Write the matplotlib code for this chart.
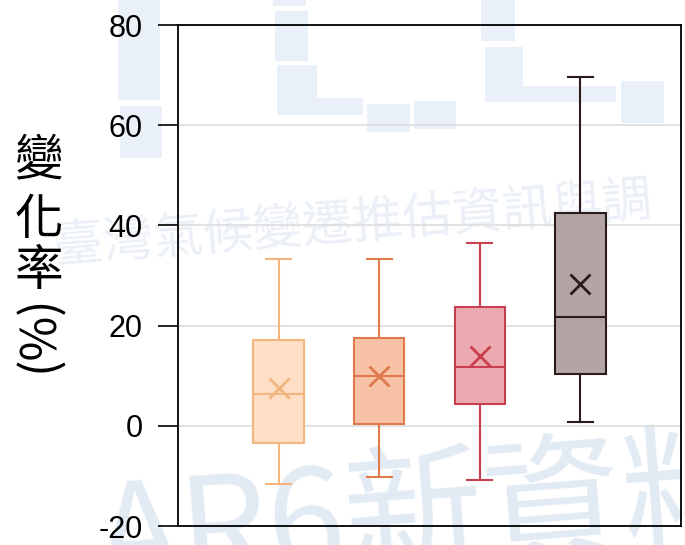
import matplotlib
matplotlib.use("Agg")
import matplotlib.pyplot as plt
from matplotlib.patches import Rectangle

plt.rcParams['axes.unicode_minus'] = False
plt.rcParams['font.family'] = ['Liberation Sans', 'DejaVu Sans']

# Precipitation change (%) summary per warming level
groups = ["GWL1.5", "GWL2.0", "GWL3.0", "GWL4.0"]
whisker_low = [-11.6, -10.2, -10.8, 0.8]
q1 = [-3.4, 0.4, 4.4, 10.4]
median = [6.4, 10.0, 11.8, 21.8]
q3 = [17.2, 17.6, 23.8, 42.4]
whisker_high = [33.2, 33.2, 36.4, 69.6]
mean = [7.6, 10.0, 14.0, 28.4]

yticks = [-20, 0, 20, 40, 60, 80]

edge_colors = ["#F4B47E", "#DE7A4C", "#C8404F", "#2B1B1D"]
fill_colors = ["#FDDFC6", "#F8C2A6", "#EDA9B0", "#B3A4A5"]

W, H = 685, 545
fig = plt.figure(figsize=(W / 100, H / 100), dpi=100)


def fx(x):
    return x / W


def fy(y):
    return 1 - y / H


# faint background watermark
wm = "#EAF0F7"
blocks = [
    (118, 0, 42, 100), (120, 106, 42, 52),
    (273, 0, 33, 6), (275, 11, 33, 50), (277, 65, 40, 50), (277, 98, 86, 17),
    (367, 104, 43, 28), (414, 101, 42, 28),
    (481, 0, 34, 41), (485, 47, 38, 52), (485, 86, 131, 16),
    (621, 81, 43, 42),
]
for (x, y, w, h) in blocks:
    fig.patches.append(Rectangle((fx(x), fy(y + h)), w / W, h / H,
                                 transform=fig.transFigure, color=wm,
                                 zorder=-2, lw=0))
cjk = ['Noto Sans CJK TC', 'DejaVu Sans']
fig.text(fx(55), fy(262), "臺灣氣候變遷推估資訊與調", family=cjk,
         fontsize=36, color="#EBF0F7", rotation=4.5, ha='left', va='baseline',
         zorder=-1, rotation_mode='anchor', fontweight='light')
fig.text(fx(100), fy(585), "AR6新資料", family=cjk,
         fontsize=100, color="#E2EAF3", rotation=4.5, ha='left',
         va='baseline', zorder=-1, rotation_mode='anchor')

ax = fig.add_axes([fx(178), fy(526), (681 - 178) / W, (526 - 25) / H])
ax.set_facecolor('none')

stats = []
for i, g in enumerate(groups):
    stats.append(dict(label=g, whislo=whisker_low[i], q1=q1[i],
                      med=median[i], q3=q3[i], whishi=whisker_high[i],
                      mean=mean[i]))

positions = list(range(1, len(groups) + 1))
bp = ax.bxp(stats, positions=positions, widths=0.5, capwidths=0.25,
            showmeans=True, showfliers=False, patch_artist=True)

for i in range(len(groups)):
    ec, fc = edge_colors[i], fill_colors[i]
    bp['boxes'][i].set(facecolor=fc, edgecolor=ec, linewidth=1.5, alpha=1)
    bp['medians'][i].set(color=ec, linewidth=1.5)
    for ln in bp['whiskers'][2 * i:2 * i + 2] + bp['caps'][2 * i:2 * i + 2]:
        ln.set(color=ec, linewidth=1.5)
    bp['means'][i].set(marker='x', markersize=14, markeredgewidth=2.0,
                       markeredgecolor=ec, markerfacecolor=ec)

ax.set_xlim(0, 5)
ax.set_ylim(-20, 80)
ax.set_yticks(yticks)
ax.set_yticklabels([str(t) for t in yticks])
ax.set_xticks([])
ax.yaxis.grid(True, color="#DDDDDD", linewidth=1.2)
ax.set_axisbelow(True)
ax.tick_params(axis='y', length=14.5, width=1.2, pad=11, labelsize=22,
               colors='black')
for s in ax.spines.values():
    s.set_linewidth(1.3)
    s.set_color('black')

# vertical axis title, characters stacked
for ch, yc in zip("變化率", [161, 220, 271]):
    fig.text(fx(39), fy(yc), ch, family=cjk, fontsize=35, ha='center',
             va='center', color='black', fontweight='light')
fig.text(fx(39), fy(333), "(%)", family=cjk, fontsize=35, ha='center',
         va='center', rotation=90, color='black', fontweight='light')

fig.savefig("out.png", dpi=100)
